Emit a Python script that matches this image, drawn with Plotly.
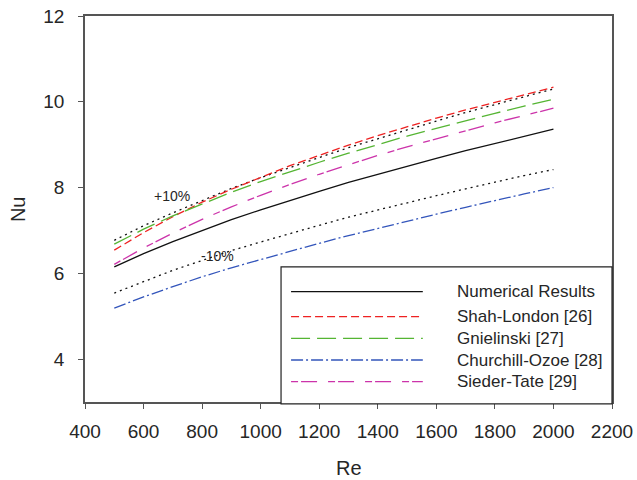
import plotly.graph_objects as go

re_vals = [500, 600, 700, 800, 900, 1000, 1100, 1200, 1300, 1400, 1500, 1600, 1700, 1800, 1900, 2000]
numerical = [6.15, 6.46, 6.74, 7.00, 7.25, 7.48, 7.70, 7.91, 8.12, 8.31, 8.50, 8.68, 8.86, 9.03, 9.20, 9.36]
plus10 = [6.77, 7.11, 7.41, 7.70, 7.98, 8.23, 8.47, 8.70, 8.93, 9.14, 9.35, 9.55, 9.75, 9.93, 10.12, 10.30]
minus10 = [5.54, 5.81, 6.07, 6.30, 6.53, 6.73, 6.93, 7.12, 7.31, 7.48, 7.65, 7.81, 7.97, 8.13, 8.28, 8.42]
shah_london = [6.54, 6.95, 7.32, 7.66, 7.96, 8.24, 8.51, 8.75, 8.99, 9.21, 9.42, 9.62, 9.81, 9.99, 10.17, 10.34]
gnielinski = [6.68, 7.03, 7.34, 7.62, 7.89, 8.14, 8.37, 8.59, 8.80, 9.00, 9.20, 9.38, 9.56, 9.73, 9.90, 10.06]
churchill_ozoe = [5.19, 5.45, 5.69, 5.92, 6.13, 6.32, 6.52, 6.70, 6.88, 7.05, 7.22, 7.38, 7.54, 7.70, 7.85, 8.00]
sieder_tate = [6.21, 6.59, 6.94, 7.26, 7.55, 7.82, 8.07, 8.31, 8.53, 8.75, 8.95, 9.14, 9.33, 9.51, 9.68, 9.85]

x_ticks = [400, 600, 800, 1000, 1200, 1400, 1600, 1800, 2000, 2200]
y_ticks = [4, 6, 8, 10, 12]

FONT = "Arial, Liberation Sans, sans-serif"
TXT = "#262626"

series = [
    ("Numerical Results", numerical, "#111111", "solid", 1.3),
    ("Shah-London [26]", shah_london, "#ee2222", "8px,4px", 1.3),
    ("Gnielinski [27]", gnielinski, "#55b533", "19px,7px", 1.3),
    ("Churchill-Ozoe [28]", churchill_ozoe, "#3355bb", "12px,3px,2px,3px", 1.3),
    ("Sieder-Tate [29]", sieder_tate, "#cc33aa", "7px,3px,16px,11px", 1.3),
]

fig = go.Figure()
fig.add_trace(go.Scatter(x=re_vals, y=plus10, mode="lines", showlegend=False,
                         line=dict(color="#111111", width=1.3, dash="2px,4px")))
fig.add_trace(go.Scatter(x=re_vals, y=minus10, mode="lines", showlegend=False,
                         line=dict(color="#111111", width=1.3, dash="2px,4px")))
for name, vals, color, dash, w in series:
    fig.add_trace(go.Scatter(x=re_vals, y=vals, mode="lines", name=name, showlegend=False,
                             line=dict(color=color, width=w, dash=dash)))

# custom legend box
shapes = [dict(type="rect", xref="paper", yref="paper", x0=0.372, x1=1.0, y0=-0.005, y1=0.350,
               fillcolor="white", line=dict(color="#222222", width=1.2), layer="above")]
annotations = []
row_y = [0.2858, 0.2211, 0.1650, 0.1088, 0.0526]
for (name, vals, color, dash, w), ry in zip(series, row_y):
    shapes.append(dict(type="line", xref="paper", yref="paper", x0=0.391, x1=0.641, y0=ry, y1=ry,
                       line=dict(color=color, width=w, dash=dash), layer="above"))
    annotations.append(dict(xref="paper", yref="paper", x=0.703, y=ry, text=name, showarrow=False,
                            xanchor="left", yanchor="middle", font=dict(family=FONT, size=17, color=TXT)))

annotations.append(dict(x=697, y=7.80, text="+10%", showarrow=False, xanchor="center", yanchor="middle",
                        font=dict(family=FONT, size=14, color=TXT)))
annotations.append(dict(x=853, y=6.40, text="-10%", showarrow=False, xanchor="center", yanchor="middle",
                        font=dict(family=FONT, size=14, color=TXT)))

# axis titles
annotations.append(dict(xref="paper", yref="paper", x=0.5, y=-0.171, text="Re", showarrow=False,
                        xanchor="center", yanchor="middle", font=dict(family=FONT, size=20, color=TXT)))
annotations.append(dict(xref="paper", yref="paper", x=-0.127, y=0.5, text="Nu", showarrow=False,
                        textangle=-90, xanchor="center", yanchor="middle",
                        font=dict(family=FONT, size=20, color=TXT)))

axis_common = dict(showline=True, linecolor="#555555", linewidth=1.5, mirror=True, ticks="outside",
                   ticklen=5, tickwidth=1.2, tickcolor="#555555", showgrid=False, zeroline=False,
                   automargin=False, tickfont=dict(family=FONT, size=19, color=TXT))

fig.update_layout(
    width=637, height=480,
    margin=dict(l=85, r=25, t=16, b=78),
    paper_bgcolor="white", plot_bgcolor="white",
    shapes=shapes, annotations=annotations,
    xaxis=dict(range=[400, 2200], tickvals=x_ticks, ticklabelstandoff=6, **axis_common),
    yaxis=dict(range=[3, 12], tickvals=y_ticks, ticklabelstandoff=10, **axis_common),
)

fig.write_html("out.html")
